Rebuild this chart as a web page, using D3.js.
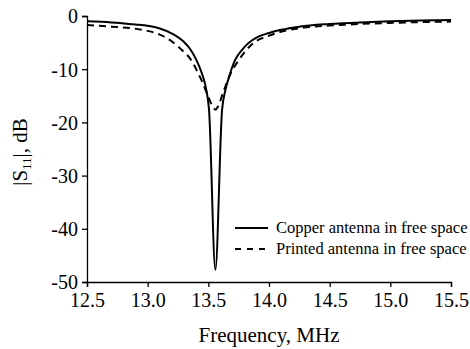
<!DOCTYPE html>
<html><head><meta charset="utf-8">
<script src="https://cdn.jsdelivr.net/npm/d3@7"></script>
<style>body{margin:0;background:#fff}svg{display:block}svg text{font-family:"Liberation Serif","Times New Roman",serif !important;fill:#000}</style>
</head><body><svg id="c" width="470" height="349"></svg>
<script>
const copperFreq = [12.5,12.7,12.9,13.0,13.1,13.2,13.3,13.35,13.4,13.45,13.48,13.506,13.558,13.613,13.64,13.67,13.72,13.78,13.83,13.9,14.0,14.1,14.25,14.5,14.75,15.0,15.25,15.5];
const copperS11  = [-1.0,-1.2,-1.6,-1.85,-2.35,-3.3,-4.9,-6.2,-8.2,-11.0,-13.5,-17.7,-47.7,-17.7,-14.0,-11.5,-8.3,-6.3,-5.1,-4.0,-3.2,-2.6,-2.0,-1.5,-1.2,-1.0,-0.85,-0.75];
const printedFreq = [12.5,12.7,12.9,13.0,13.1,13.2,13.3,13.35,13.4,13.45,13.5,13.54,13.56,13.58,13.62,13.68,13.75,13.87,14.0,14.15,14.25,14.5,14.75,15.0,15.25,15.5];
const printedS11  = [-1.7,-2.0,-2.4,-2.8,-3.5,-4.8,-6.8,-8.0,-10.0,-12.4,-15.2,-17.2,-17.6,-17.0,-14.5,-11.0,-8.3,-5.1,-3.7,-2.7,-2.3,-1.8,-1.5,-1.3,-1.15,-1.05];
const xTicks = [12.5,13.0,13.5,14.0,14.5,15.0,15.5];
const yTicks = [0,-10,-20,-30,-40,-50];
const seriesNames = ["Copper antenna in free space","Printed antenna in free space"];

const svg = d3.select("#c");
const x = d3.scaleLinear().domain([12.5,15.5]).range([87,451]);
const y = d3.scaleLinear().domain([-50,0]).range([282,16]);
const serif = '"Liberation Serif","Times New Roman",serif';

const xAxis = svg.append("g").attr("transform","translate(0,282)")
  .call(d3.axisBottom(x).tickValues(xTicks).tickFormat(d3.format(".1f")).tickSizeOuter(0).tickSize(5).tickPadding(4));
const yAxis = svg.append("g").attr("transform","translate(87,0)")
  .call(d3.axisLeft(y).tickValues(yTicks).tickFormat(d=>String(d)).tickSizeOuter(0).tickSize(5).tickPadding(4));
[xAxis,yAxis].forEach(a=>{
  a.attr("font-family",serif).attr("font-size",20);
  a.selectAll("path,line").attr("stroke","#000").attr("stroke-width",1.3);
  a.selectAll("text").style("font-family",serif).style("font-size","20px").attr("fill","#000");
});
xAxis.selectAll("text").attr("dy","0.78em");
yAxis.selectAll("text").attr("dy","0.34em");

const line = d3.line().x(d=>x(d[0])).y(d=>y(d[1])).curve(d3.curveMonotoneX);
const copper = copperFreq.map((f,i)=>[f,copperS11[i]]);
const printed = printedFreq.map((f,i)=>[f,printedS11[i]]);
svg.append("path").datum(printed).attr("d",line).attr("fill","none")
  .attr("stroke","#000").attr("stroke-width",2).attr("stroke-dasharray","7,5");
svg.append("path").datum(copper).attr("d",line).attr("fill","none")
  .attr("stroke","#000").attr("stroke-width",2);

// legend
const lg = svg.append("g");
seriesNames.forEach((n,i)=>{
  const yy = 228 + i*21;
  lg.append("line").attr("x1",235).attr("x2",268).attr("y1",yy).attr("y2",yy)
    .attr("stroke","#000").attr("stroke-width",2).attr("stroke-dasharray",i?"6,6":null);
  lg.append("text").attr("x",276).attr("y",yy+5).style("font-family",serif).style("font-size","16.5px").text(n);
});

svg.append("text").attr("x",269).attr("y",342).attr("text-anchor","middle").style("font-family",serif).style("font-size","21px").text("Frequency, MHz");
const yl = svg.append("text").attr("transform","translate(27,152) rotate(-90)").attr("text-anchor","middle").style("font-family",serif).style("font-size","21px");
yl.append("tspan").text("|S");
yl.append("tspan").style("font-size","13px").attr("dy",4).text("11");
yl.append("tspan").attr("dy",-4).text("|, dB");
</script></body></html>
